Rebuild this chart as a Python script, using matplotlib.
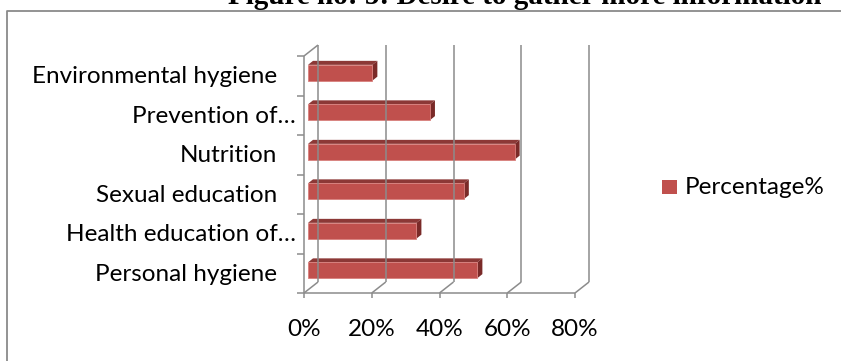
import matplotlib
matplotlib.use("Agg")
import matplotlib.pyplot as plt
from matplotlib.patches import Polygon, Rectangle
from matplotlib.transforms import IdentityTransform
import numpy as np

# ---- data ----
categories = ["Personal hygiene", "Health education of…", "Sexual education",
              "Nutrition", "Prevention of…", "Environmental hygiene"]
values = [0.50, 0.32, 0.46, 0.61, 0.36, 0.19]
xticks = [0.0, 0.2, 0.4, 0.6, 0.8]
xtick_labels = ["0%", "20%", "40%", "60%", "80%"]
series_name = "Percentage%"
title = "Figure no: 5: Desire to gather more information"

W, H, DPI = 841, 361, 100
fig = plt.figure(figsize=(W / DPI, H / DPI), dpi=DPI)
FONT = "Lato"
FS = 17.5

# axes = front plane of the 3D box
ax = fig.add_axes([304 / W, 1 - 293 / H, 271 / W, 237 / H])
ax.set_xlim(0, 0.8)
ax.set_ylim(-0.5, len(categories) - 0.5)
ax.axis("off")

T = ax.transData
def px(x, y):
    # data -> figure pixel (y up)
    return T.transform((x, y))

grid_c = "#8C8C8C"
glw = 1.1
DX, DY = 14, 11  # full depth offset in px

def line_px(pts, **kw):
    xs, ys = zip(*pts)
    fig.add_artist(plt.Line2D(xs, ys, transform=IdentityTransform(), color=grid_c,
                              lw=glw, solid_capstyle="butt", **kw))

ymin, ymax = -0.5, len(categories) - 0.5
# back wall gridlines + floor diagonals
for xv in xticks:
    fb = px(xv, ymin)
    ft = px(xv, ymax)
    line_px([(fb[0] + DX, fb[1] + DY), (ft[0] + DX, ft[1] + DY)])
    line_px([fb, (fb[0] + DX, fb[1] + DY)])
    # tick below floor
    line_px([fb, (fb[0], fb[1] - 5)])
# front floor line
line_px([px(0, ymin), px(0.8, ymin)])
# left wall front line and top diagonal
line_px([px(0, ymin), px(0, ymax)])
t0 = px(0, ymax)
line_px([t0, (t0[0] + DX, t0[1] + DY)])
# category tick marks
for k in range(len(categories) + 1):
    p = px(0, ymin + k)
    line_px([(p[0] - 7, p[1]), p])

# bars with 3D effect
front_c = "#C0504D"
top_c = "#8C3836"
side_c = "#7A2A28"
edge_c = "#D9807D"
h = 0.40
fx, fy = 4, 3     # front face offset from front plane
bx, by = 5, 4     # bar depth
for i, v in enumerate(values):
    p0 = px(0, i - h / 2)
    p1 = px(v, i + h / 2)
    x0, y0 = p0[0] + fx, p0[1] + fy
    x1, y1 = p1[0] + fx, p1[1] + fy
    # top face
    fig.add_artist(Polygon([(x0, y1), (x1, y1), (x1 + bx, y1 + by), (x0 + bx, y1 + by)],
                           closed=True, transform=IdentityTransform(),
                           facecolor=top_c, edgecolor="none"))
    # side face
    fig.add_artist(Polygon([(x1, y0), (x1 + bx, y0 + by), (x1 + bx, y1 + by), (x1, y1)],
                           closed=True, transform=IdentityTransform(),
                           facecolor=side_c, edgecolor="none"))
    # front face
    fig.add_artist(Rectangle((x0, y0), x1 - x0, y1 - y0, transform=IdentityTransform(),
                             facecolor=front_c, edgecolor=edge_c, lw=0.6))

# category labels (truncated labels sit closer to the axis)
for i, lab in enumerate(categories):
    p = px(0, i)
    gap = 8 if lab.endswith("…") else 27
    fig.text((p[0] - gap) / W, (p[1] - 1) / H, lab, ha="right", va="center",
             fontsize=FS, family=FONT, color="#000000")

# x tick labels
for xv, lab in zip(xticks, xtick_labels):
    p = px(xv, ymin)
    fig.text(p[0] / W, (p[1] - 36) / H, lab, ha="center", va="center",
             fontsize=FS, family=FONT, color="#000000")

# legend
fig.add_artist(Rectangle((662 / W, 1 - 194 / H), 15 / W, 14 / H,
                         transform=fig.transFigure, facecolor=front_c, edgecolor="none"))
fig.text(685 / W, 1 - 187 / H, series_name, ha="left", va="center",
         fontsize=FS, family=FONT, color="#000000")

# chart frame
fig.add_artist(plt.Line2D([6.5 / W, 6.5 / W, 1.01], [-0.01, 1 - 10.5 / H, 1 - 10.5 / H],
                          transform=fig.transFigure, color="#8a8a8a", lw=1.3))

# title (cut off at the top, as in the reference)
fig.text(525 / W, 1 - 4 / H, title, ha="center", va="baseline",
         fontsize=21, family="Liberation Serif", fontweight="bold", color="#000000")

fig.savefig("out.png", dpi=DPI, facecolor="white")
